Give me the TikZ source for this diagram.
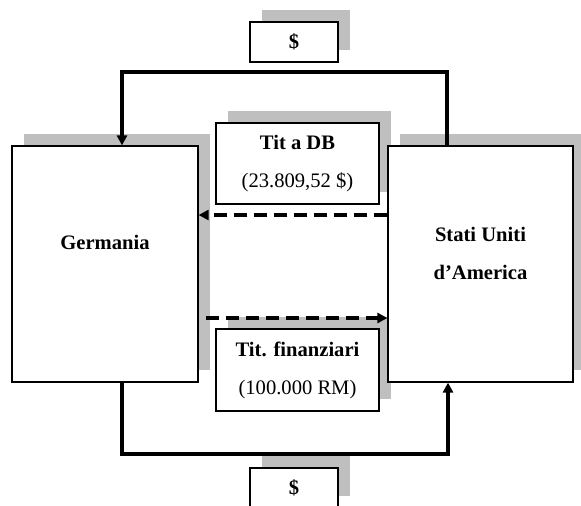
\documentclass[tikz,border=0pt]{standalone}
\usepackage{fontspec}
\setmainfont{Liberation Serif}
\usetikzlibrary{arrows.meta,shadows}
\begin{document}
\begin{tikzpicture}[x=0.5pt,y=-0.5pt,
    box/.style={draw,line width=0.6pt,fill=white,drop shadow={shadow xshift=6pt,shadow yshift=6pt,fill=black!25,opacity=1}},
    txt/.style={font=\fontsize{10.3}{19}\selectfont\bfseries,align=center},
    flow/.style={line width=1.6pt,-{Triangle[length=5pt,width=5pt]}},
    loan/.style={flow,dash pattern=on 6.5pt off 3.5pt}]
    \useasboundingbox (0,0) rectangle (581,505);
    \node[box,minimum width=93pt,minimum height=118pt] (ger) at (105,264) {};
    \node[box,txt,minimum width=81.5pt,minimum height=40.5pt] (titdb) at (297.5,163.5) {Tit a DB\\\mdseries(23.809,52 \$)};
    \node[box,txt,minimum width=81.5pt,minimum height=41pt] (titfin) at (297.5,370) {Tit. finanziari\\\mdseries(100.000 RM)};
    \node[box,minimum width=92.5pt,minimum height=118pt] (usa) at (480.5,264) {};
    \node[box,txt,minimum width=44pt,minimum height=20pt] (dtop) at (294,42) {\$};
    \node[box,txt,minimum width=44pt,minimum height=20pt] (dbot) at (294,488) {\$};
    \node[txt] (gername) at ([yshift=11pt]ger.center) {Germania};
    \node[txt] (usaname) at ([yshift=5.25pt]usa.center) {Stati Uniti\\d’America};
    \coordinate (tl) at (122,72);
    \coordinate (tr) at (447,72);
    \coordinate (bl) at (122,454);
    \coordinate (br) at (448,454);
    \coordinate (ra) at (300,215);
    \coordinate (rb) at (300,318);
    \draw[flow] (usa.north -| tr) -- (tr) -- (tl) -- (ger.north -| tl);
    \draw[flow] (ger.south -| bl) -- (bl) -- (br) -- (usa.south -| br);
    \draw[loan] (usa.west |- ra) -- (ger.east |- ra);
    \draw[loan,shorten <=3.5pt] (ger.east |- rb) -- (usa.west |- rb);
\end{tikzpicture}
\end{document}
